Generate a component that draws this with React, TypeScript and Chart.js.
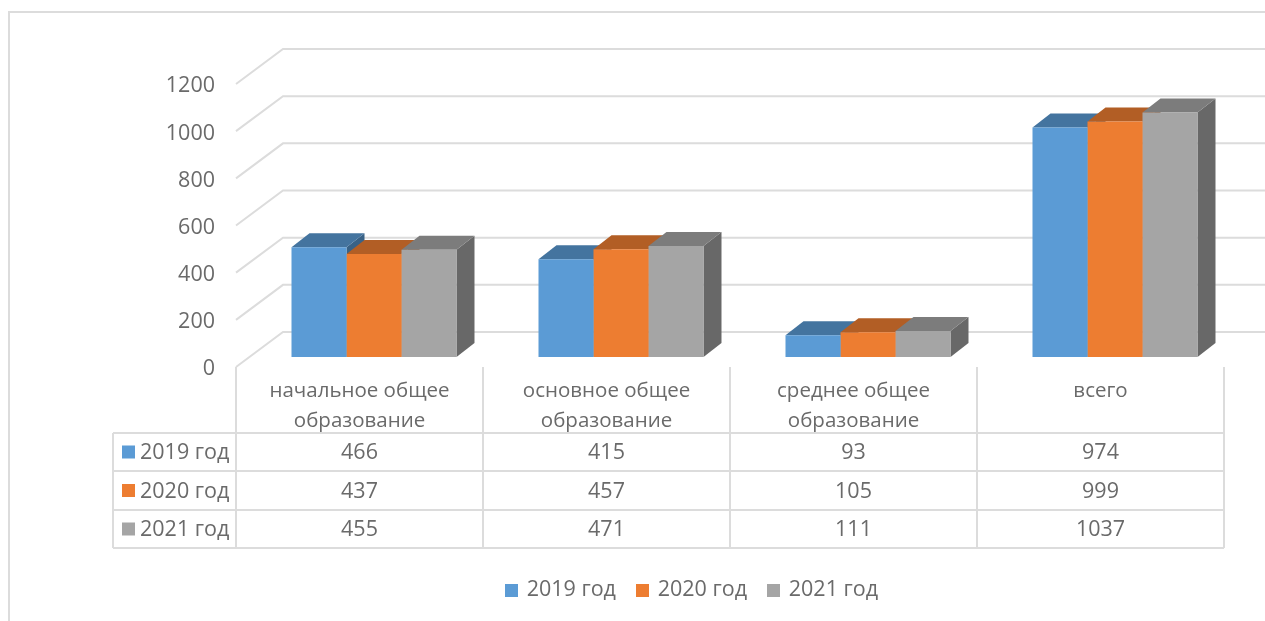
import React, { useEffect, useRef } from "react";
import { Chart, registerables } from "chart.js";

Chart.register(...registerables);

const categories = ["начальное общее образование", "основное общее образование", "среднее общее образование", "всего"];
const categoryLines = [["начальное общее", "образование"], ["основное общее", "образование"], ["среднее общее", "образование"], ["всего"]];
const seriesNames = ["2019 год", "2020 год", "2021 год"];
const values2019 = [466, 415, 93, 974];
const values2020 = [437, 457, 105, 999];
const values2021 = [455, 471, 111, 1037];
const seriesValues = [values2019, values2020, values2021];
const frontColors = ["#5B9BD5", "#ED7D31", "#A5A5A5"];
const topColors = ["#44749F", "#B25E25", "#7C7C7C"];
const sideColors = ["#396286", "#954F1F", "#686868"];
const yTicks = [0, 200, 400, 600, 800, 1000, 1200];

const FONT = '"Open Sans", sans-serif';
const TEXT = "#6a6a6a";
const GRID = "#dcdcdc";
const SHIFT_X = 14.5;
const DEPTH_X = 18;
const DEPTH_Y = 14;
const WALL_X = 47;
const WALL_Y = 35;

function swatch(color: string) {
  const c = document.createElement("canvas");
  c.width = 13;
  c.height = 13;
  const g = c.getContext("2d")!;
  g.fillStyle = color;
  g.fillRect(0, 0, 13, 13);
  return c;
}

const scene = {
  id: "scene",
  beforeDatasetsDraw(chart: any) {
    const { ctx, scales } = chart;
    const wall = scales.y3;
    const x0 = chart.chartArea.left;
    ctx.save();
    ctx.strokeStyle = GRID;
    ctx.lineWidth = 2;
    ctx.strokeRect(9, 12, 1300, 700);
    yTicks.forEach((t) => {
      const py = wall.getPixelForValue(t);
      ctx.beginPath();
      ctx.moveTo(x0, py);
      ctx.lineTo(x0 + WALL_X, py - WALL_Y);
      ctx.lineTo(chart.width, py - WALL_Y);
      ctx.stroke();
    });
    ctx.restore();

    ctx.save();
    ctx.translate(SHIFT_X, 0);
    seriesNames.forEach((_, i) => {
      chart.getDatasetMeta(i).data.forEach((bar: any) => {
        const l = bar.x - bar.width / 2;
        const r = bar.x + bar.width / 2;
        ctx.fillStyle = sideColors[i];
        ctx.beginPath();
        ctx.moveTo(r, bar.y);
        ctx.lineTo(r + DEPTH_X, bar.y - DEPTH_Y);
        ctx.lineTo(r + DEPTH_X, bar.base - DEPTH_Y);
        ctx.lineTo(r, bar.base);
        ctx.closePath();
        ctx.fill();
        ctx.fillStyle = topColors[i];
        ctx.beginPath();
        ctx.moveTo(l, bar.y);
        ctx.lineTo(l + DEPTH_X, bar.y - DEPTH_Y);
        ctx.lineTo(r + DEPTH_X, bar.y - DEPTH_Y);
        ctx.lineTo(r, bar.y);
        ctx.closePath();
        ctx.fill();
      });
    });
    ctx.restore();
    ctx.save();
    ctx.translate(SHIFT_X, 0);
  },
  afterDatasetsDraw(chart: any) {
    const { ctx, scales } = chart;
    ctx.restore();

    const { left, right, bottom } = chart.chartArea;
    const cols = scales.x.ticks.map((_: any, k: number) => scales.x.getPixelForTick(k));
    const step = (right - left) / categories.length;
    const rowLines = [433, 471, 510, 548];
    const tableLeft = 113;

    ctx.save();
    ctx.strokeStyle = GRID;
    ctx.lineWidth = 2;
    for (let k = 0; k <= categories.length; k++) {
      const px = left + step * k;
      ctx.beginPath();
      ctx.moveTo(px, bottom);
      ctx.lineTo(px, rowLines[3]);
      ctx.stroke();
    }
    rowLines.forEach((ly) => {
      ctx.beginPath();
      ctx.moveTo(tableLeft, ly);
      ctx.lineTo(right, ly);
      ctx.stroke();
    });
    ctx.beginPath();
    ctx.moveTo(tableLeft, rowLines[0]);
    ctx.lineTo(tableLeft, rowLines[3]);
    ctx.stroke();

    ctx.fillStyle = TEXT;
    ctx.textAlign = "center";
    ctx.textBaseline = "middle";
    ctx.font = `20.5px ${FONT}`;
    categoryLines.forEach((lines, k) => {
      lines.forEach((line, n) => {
        ctx.fillText(line, cols[k], 391.5 + n * 30);
      });
    });
    ctx.font = `21.5px ${FONT}`;
    seriesNames.forEach((name, i) => {
      const rowY = (rowLines[i] + rowLines[i + 1]) / 2;
      ctx.fillStyle = frontColors[i];
      ctx.fillRect(122, rowY - 6.5, 13, 13);
      ctx.fillStyle = TEXT;
      ctx.textAlign = "left";
      ctx.fillText(name, 140, rowY + 1);
      ctx.textAlign = "center";
      seriesValues[i].forEach((v, k) => {
        ctx.fillText(String(v), cols[k], rowY + 1);
      });
    });
    ctx.restore();
  },
};

export default function App() {
  const ref = useRef<HTMLCanvasElement>(null);
  useEffect(() => {
    const chart = new Chart(ref.current!, {
      type: "bar",
      plugins: [scene],
      data: {
        labels: categories,
        datasets: seriesNames.map((name, i) => ({
          label: name,
          data: seriesValues[i],
          backgroundColor: frontColors[i],
          yAxisID: "y2",
          categoryPercentage: 0.668,
          barPercentage: 1,
          borderWidth: 0,
          clip: false as any,
        })),
      },
      options: {
        responsive: false,
        animation: false,
        layout: { padding: { left: 161, top: 84, right: 41, bottom: 10 } },
        plugins: {
          tooltip: { enabled: false },
          legend: {
            position: "bottom",
            labels: {
              usePointStyle: true,
              pointStyleWidth: 9,
              boxHeight: 13,
              padding: 22,
              color: TEXT,
              font: { family: FONT, size: 21.5 },
              generateLabels(c: any) {
                return Chart.defaults.plugins.legend.labels.generateLabels(c).map((item: any, i: number) => ({
                  ...item,
                  pointStyle: swatch(frontColors[i]),
                }));
              },
            },
          },
        },
        scales: {
          x: {
            position: "bottom",
            grid: { display: false },
            border: { display: false },
            ticks: { display: false },
            afterFit(s: any) {
              s.height = 190.5;
            },
          },
          y: {
            position: "left",
            min: 10,
            max: 1210,
            grid: { display: false },
            border: { display: false },
            afterBuildTicks(s: any) {
              s.ticks = yTicks.map((value) => ({ value }));
            },
            ticks: {
              padding: 13,
              color: TEXT,
              font: { family: FONT, size: 21.5 },
              callback: (v: any) => String(v),
            },
            afterFit(s: any) {
              s.width = 75;
            },
          },
          y3: {
            display: false,
            min: 0,
            max: 1200,
          },
          y2: {
            display: false,
            min: -42,
            max: 1158,
          },
        },
      },
    });
    return () => chart.destroy();
  }, []);
  return (
    <div style={{ position: "absolute", left: 0, top: 0, width: 1265, height: 621, background: "#fff" }}>
      <canvas ref={ref} width={1265} height={621} style={{ display: "block", filter: "blur(0.5px)" }} />
    </div>
  );
}
